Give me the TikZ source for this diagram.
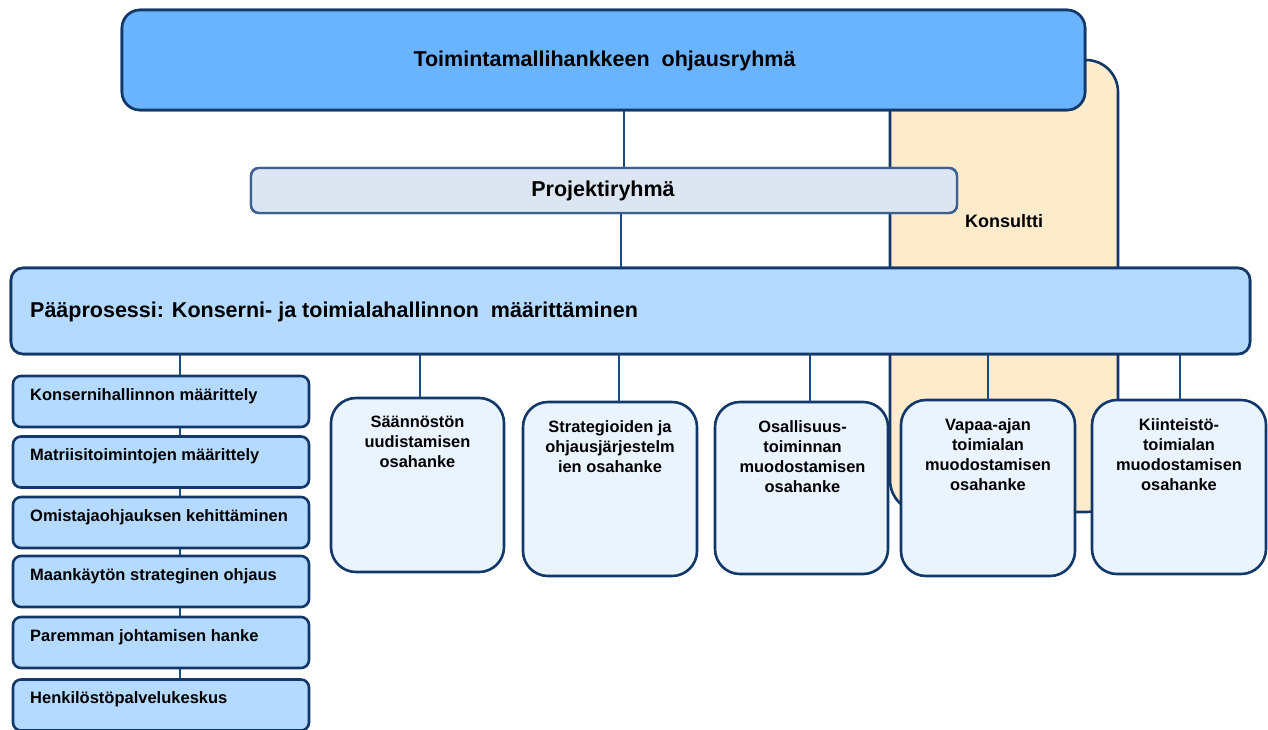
\documentclass[tikz,border=0pt]{standalone}
\usepackage{fontspec}
\setmainfont{Liberation Sans}
\definecolor{navy}{HTML}{12386A}
\definecolor{topfill}{HTML}{6AB4FF}
\definecolor{ppfill}{HTML}{B4DAFF}
\definecolor{subfill}{HTML}{EAF4FF}
\definecolor{projfill}{HTML}{DCE6F2}
\definecolor{projdraw}{HTML}{3D6091}
\definecolor{konfill}{HTML}{FDEBCB}
\definecolor{linec}{HTML}{1A4B85}
\begin{document}
\begin{tikzpicture}[x=1pt,y=-1pt,
  box/.style={draw=navy, line width=2.6pt, inner sep=0pt, outer sep=0pt},
  topbox/.style={box, fill=topfill, rounded corners=18pt, minimum width=963pt, minimum height=100pt},
  konsbox/.style={box, fill=konfill, rounded corners=32pt, minimum width=228pt, minimum height=452pt},
  projbox/.style={draw=projdraw, line width=2.4pt, fill=projfill, rounded corners=8pt, minimum width=706pt, minimum height=45pt, inner sep=0pt},
  ppbox/.style={box, fill=ppfill, rounded corners=12pt, minimum width=1239pt, minimum height=86pt},
  leftbox/.style={box, fill=ppfill, rounded corners=8pt, minimum width=296pt, minimum height=51pt},
  subbox/.style={box, fill=subfill, rounded corners=25pt, minimum width=174pt, minimum height=174pt},
  bigtxt/.style={font=\fontsize{21.5}{24}\selectfont\bfseries, inner sep=0pt},
  lefttxt/.style={font=\fontsize{16.5}{19}\selectfont\bfseries, inner sep=0pt, anchor=west},
  subtxt/.style={font=\fontsize{16.4}{20}\selectfont\bfseries, inner sep=0pt, align=center, anchor=north},
  conn/.style={draw=linec, line width=2.4pt}
]
\useasboundingbox (0,0) rectangle (1268,729);
\clip (0,0) rectangle (1268,729);

% Konsultti background
\node[konsbox] (kons) at (1004,286) {};
\node[font=\fontsize{18}{21}\selectfont\bfseries, inner sep=0pt] (konst) at (1004,221) {Konsultti};

% nodes (positions)
\path (603.5,60) node[topbox] (top) {};
\path (604,190.5) node[projbox] (proj) {};
\path (630.5,311) node[ppbox] (pp) {};

% connectors (drawn behind boxes)
\draw[conn] (top.south -| 624,0) -- (proj.north -| 624,0);
\draw[conn] (proj.south -| 621,0) -- (pp.north -| 621,0);

% redraw boxes on top of connectors
\node[topbox] (top2) at (603.5,60) {};
\node[bigtxt] (toptxt) at (604.5,61) {Toimintamallihankkeen\ \ ohjausryhmä};
\node[projbox] (proj2) at (604,190.5) {};
\node[bigtxt] (projtxt) at (603,191) {Projektiryhmä};
\node[ppbox] (pp2) at (630.5,311) {};
\node[bigtxt, anchor=west] (pptxt) at (30,312) {Pääprosessi: Konserni- ja toimialahallinnon\ \ määrittäminen};

% left column
\foreach \n/\y in {1/401.5,2/462,3/522.5,4/581.5,5/642.5,6/705}{
  \coordinate (lc\n) at (161,\y);
}
\draw[conn] (pp2.south -| 180,0) -- ([yshift=-20pt]lc6 -| 180,0);
\node[leftbox] (l1) at (lc1) {};
\node[leftbox] (l2) at (lc2) {};
\node[leftbox] (l3) at (lc3) {};
\node[leftbox] (l4) at (lc4) {};
\node[leftbox] (l5) at (lc5) {};
\node[leftbox] (l6) at (lc6) {};
\node[lefttxt] (t1) at ([shift={(17,-5.5)}]l1.west) {Konsernihallinnon määrittely};
\node[lefttxt] (t2) at ([shift={(17,-5.5)}]l2.west) {Matriisitoimintojen määrittely};
\node[lefttxt] (t3) at ([shift={(17,-5.5)}]l3.west) {Omistajaohjauksen kehittäminen};
\node[lefttxt] (t4) at ([shift={(17,-5.5)}]l4.west) {Maankäytön strateginen ohjaus};
\node[lefttxt] (t5) at ([shift={(17,-5.5)}]l5.west) {Paremman johtamisen hanke};
\node[lefttxt] (t6) at ([shift={(17,-5.5)}]l6.west) {Henkilöstöpalvelukeskus};

% sub-project boxes
\node[subbox, minimum width=173pt] (s1) at (417.5,485) {};
\node[subbox] (s2) at (610,489) {};
\node[subbox, minimum width=173pt, minimum height=172pt] (s3) at (801.5,488) {};
\node[subbox, minimum height=176pt] (s4) at (988,488) {};
\node[subbox] (s5) at (1179,487) {};

\draw[conn] (pp2.south -| 420,0) -- (s1.north -| 420,0);
\draw[conn] (pp2.south -| 619,0) -- (s2.north -| 619,0);
\draw[conn] (pp2.south -| 810,0) -- (s3.north -| 810,0);
\draw[conn] (pp2.south -| 988,0) -- (s4.north -| 988,0);
\draw[conn] (pp2.south -| 1180,0) -- (s5.north -| 1180,0);

\node[subtxt] (st1) at ([yshift=-18pt]s1.north) {Säännöstön\\uudistamisen\\osahanke};
\node[subtxt] (st2) at ([yshift=-18pt]s2.north) {Strategioiden ja\\ohjausjärjestelm\\ien osahanke};
\node[subtxt] (st3) at ([xshift=1pt,yshift=-18pt]s3.north) {Osallisuus-\\toiminnan\\muodostamisen\\osahanke};
\node[subtxt] (st4) at ([yshift=-18pt]s4.north) {Vapaa-ajan\\toimialan\\muodostamisen\\osahanke};
\node[subtxt] (st5) at ([yshift=-18pt]s5.north) {Kiinteistö-\\toimialan\\muodostamisen\\osahanke};
\end{tikzpicture}
\end{document}
